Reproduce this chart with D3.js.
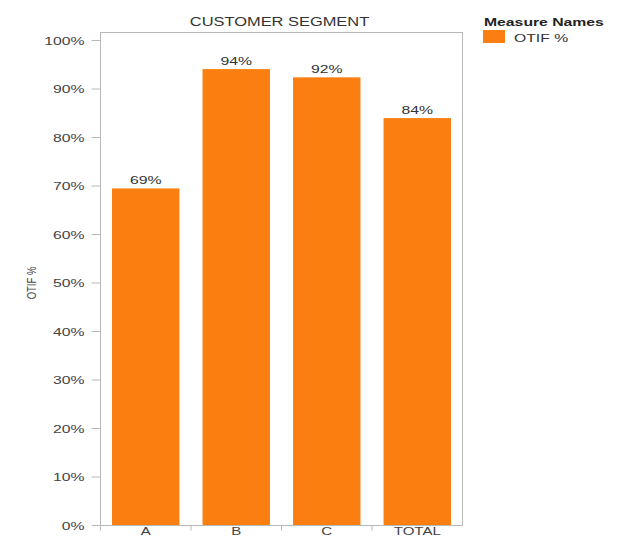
<!DOCTYPE html>
<html>
<head>
<meta charset="utf-8">
<script src="https://cdn.jsdelivr.net/npm/d3@7"></script>
<style>
  html, body { margin: 0; padding: 0; background: #fff; }
  svg { display: block; font-family: "Liberation Sans", Arial, sans-serif; }
</style>
</head>
<body>
<svg id="chart" width="619" height="538"></svg>
<script>
// OTIF % by customer segment
const categories = ["A", "B", "C", "TOTAL"];
const otifValues = [0.694, 0.940, 0.923, 0.839];
const yTicks = [0, 0.1, 0.2, 0.3, 0.4, 0.5, 0.6, 0.7, 0.8, 0.9, 1.0];
const seriesName = "OTIF %";
const legendTitle = "Measure Names";
const chartTitle = "CUSTOMER SEGMENT";

const barColor = "#fb7f10";
const frameColor = "#b8b8b8";
const textColor = "#444";
const stretchX = 1.37; // wide text rendering

const svg = d3.select("#chart");
const plot = { left: 100.5, right: 462.5, top: 32.5, bottom: 525.5 };

const x = d3.scaleBand()
  .domain(categories)
  .range([plot.left, plot.right])
  .paddingInner(0.255)
  .paddingOuter(0.127);

const y = d3.scaleLinear()
  .domain([0, 1])
  .range([plot.bottom - 0.5, 40]);

// draws a horizontally widened text label anchored at (tx, ty)
function wideText(parent, tx, ty, str, opts = {}) {
  const g = parent.append("g")
    .attr("transform", `translate(${tx},${ty}) scale(${stretchX},1) ${opts.rotate ? `rotate(${opts.rotate})` : ""}`);
  const t = g.append("text")
    .attr("x", 0).attr("y", 0)
    .attr("text-anchor", opts.anchor || "start")
    .attr("font-size", opts.size || 11.5)
    .attr("fill", opts.fill || textColor)
    .text(str);
  if (opts.bold) t.attr("font-weight", "bold");
  return g;
}

// frame around plot area
svg.append("rect")
  .attr("x", plot.left).attr("y", plot.top)
  .attr("width", plot.right - plot.left)
  .attr("height", plot.bottom - plot.top)
  .attr("fill", "none")
  .attr("stroke", frameColor)
  .attr("stroke-width", 1);

// bars
svg.append("g").selectAll("rect")
  .data(categories)
  .join("rect")
  .attr("x", d => x(d))
  .attr("width", x.bandwidth())
  .attr("y", (d, i) => y(otifValues[i]))
  .attr("height", (d, i) => y(0) - y(otifValues[i]))
  .attr("fill", barColor);

// value labels
const fmt = d3.format(".0%");
const valueLayer = svg.append("g");
categories.forEach((c, i) => {
  wideText(valueLayer, x(c) + x.bandwidth() / 2, y(otifValues[i]) - 4, fmt(otifValues[i]),
    { anchor: "middle", size: 11.5, fill: "#333" });
});

// y axis ticks
const yAxis = d3.axisLeft(y)
  .tickValues(yTicks)
  .tickFormat(d3.format(".0%"))
  .tickSize(9)
  .tickPadding(6);
const gy = svg.append("g")
  .attr("transform", `translate(${plot.left},0)`)
  .call(yAxis);
gy.select(".domain").remove();
gy.selectAll(".tick line").attr("stroke", frameColor);
gy.selectAll(".tick text").remove();
gy.selectAll(".tick").each(function (d) {
  wideText(d3.select(this), -16, 4, d3.format(".0%")(d), { anchor: "end", size: 11.5 });
});

// x axis
const bandStep = x.step();
const xAxis = d3.axisBottom(x).tickSize(0).tickFormat("");
const gx = svg.append("g")
  .attr("transform", `translate(0,${plot.bottom})`)
  .call(xAxis);
gx.select(".domain").remove();
gx.selectAll(".tick text").remove();
gx.selectAll(".tick").each(function (d) {
  wideText(d3.select(this), 0, 9, d, { anchor: "middle", size: 11 });
});
// separators between categories
gx.selectAll(".tick").append("line")
  .attr("x1", -bandStep / 2).attr("x2", -bandStep / 2)
  .attr("y1", 0).attr("y2", 5)
  .attr("stroke", frameColor);

// y axis title
wideText(svg, 36, 283, seriesName, { anchor: "middle", size: 9.5, rotate: -90 });

// chart title
wideText(svg, (plot.left + plot.right) / 2 - 2, 25.5, chartTitle,
  { anchor: "middle", size: 12, fill: "#333" });

// legend
const legend = svg.append("g").attr("transform", "translate(483,0)");
wideText(legend, 1, 26, legendTitle, { size: 11.5, bold: true, fill: "#222" });
legend.append("rect")
  .attr("x", 0).attr("y", 30)
  .attr("width", 22).attr("height", 13)
  .attr("fill", barColor);
wideText(legend, 31, 41.5, seriesName, { size: 11.5, fill: "#333" });
</script>
</body>
</html>
